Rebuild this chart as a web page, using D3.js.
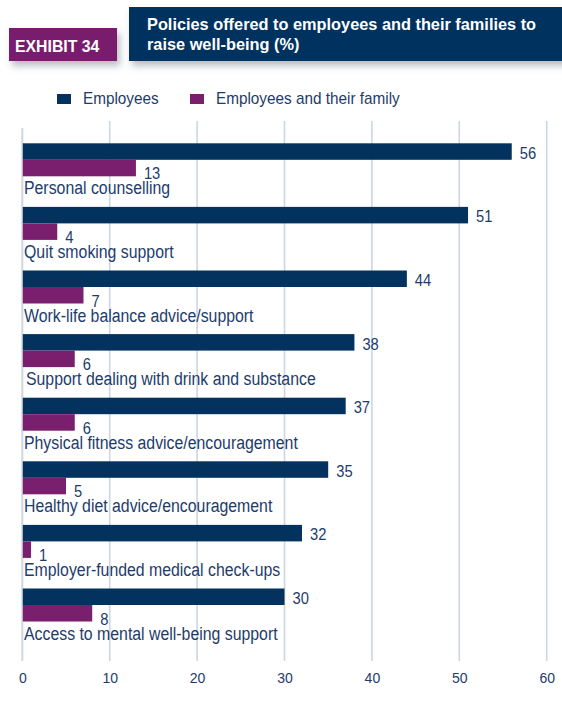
<!DOCTYPE html>
<html>
<head>
<meta charset="utf-8">
<script src="https://cdn.jsdelivr.net/npm/d3@7"></script>
<style>
  html, body { margin: 0; padding: 0; background: #fff; }
  svg { display: block; }
  text { font-family: "Liberation Sans", Arial, sans-serif; }
</style>
</head>
<body>
<svg id="chart" width="562" height="725"></svg>
<script>
// Policies offered to employees, and to employees and their families (%)
const categories = [
  "Personal counselling",
  "Quit smoking support",
  "Work-life balance advice/support",
  "Support dealing with drink and substance",
  "Physical fitness advice/encouragement",
  "Healthy diet advice/encouragement",
  "Employer-funded medical check-ups",
  "Access to mental well-being support"
];
const employees = [56, 51, 44, 38, 37, 35, 32, 30];
const employeesAndFamily = [13, 4, 7, 6, 6, 5, 1, 8];
const seriesNames = ["Employees", "Employees and their family"];
const xTicks = [0, 10, 20, 30, 40, 50, 60];

const NAVY = "#04325f";
const PURPLE = "#7a1e6e";
const TEXT = "#1d3c6b";
const GRID = "#cdd6e2";

const svg = d3.select("#chart");

// Narrow the glyphs horizontally to get a condensed face
function condense(sel, f) {
  sel.each(function () {
    const w = this.getComputedTextLength();
    d3.select(this).attr("textLength", w * f).attr("lengthAdjust", "spacingAndGlyphs");
  });
}

// Drop shadow for the header boxes
const defs = svg.append("defs");
const shadow = defs.append("filter").attr("id", "shadow")
  .attr("x", "-10%").attr("y", "-20%").attr("width", "130%").attr("height", "160%");
shadow.append("feDropShadow")
  .attr("dx", 3).attr("dy", 5).attr("stdDeviation", 3.5)
  .attr("flood-color", "#7f8a99").attr("flood-opacity", 0.55);

// Header
svg.append("rect").attr("x", 9).attr("y", 28).attr("width", 108).attr("height", 33)
  .attr("fill", PURPLE).attr("filter", "url(#shadow)");
svg.append("text").attr("x", 15).attr("y", 51.5)
  .attr("fill", "#fff").attr("font-weight", "bold").attr("font-size", 17)
  .text("EXHIBIT 34")
  .call(condense, 0.93);

svg.append("rect").attr("x", 129).attr("y", 7).attr("width", 440).attr("height", 54)
  .attr("fill", NAVY).attr("filter", "url(#shadow)");
const titleLines = ["Policies offered to employees and their families to", "raise well-being (%)"];
svg.append("g").selectAll("text").data(titleLines).join("text")
  .attr("x", 147).attr("y", (d, i) => 29.5 + i * 20.5)
  .attr("fill", "#fff").attr("font-weight", "bold").attr("font-size", 17)
  .text(d => d)
  .call(condense, 0.96);

// Legend
const legendItems = [
  { name: seriesNames[0], color: NAVY, x: 57 },
  { name: seriesNames[1], color: PURPLE, x: 190 }
];
const legend = svg.append("g").selectAll("g").data(legendItems).join("g")
  .attr("transform", d => `translate(${d.x},94)`);
legend.append("rect").attr("width", 14).attr("height", 10).attr("fill", d => d.color);
legend.append("text").attr("x", 26).attr("y", 9.5)
  .attr("fill", TEXT).attr("font-size", 17).text(d => d.name)
  .call(condense, 0.9);

// Scales
const x = d3.scaleLinear().domain([0, 60]).range([22.3, 546.7]);
const y = d3.scaleBand().domain(categories).range([143.3, 143.3 + 8 * 63.6]).paddingInner(0).paddingOuter(0);
const barH = 16.5;

// Gridlines
const grid = svg.append("g");
grid.selectAll("line").data(xTicks).join("line")
  .attr("x1", d => x(d)).attr("x2", d => x(d))
  .attr("y1", d => d === 0 ? 128 : 121).attr("y2", 661)
  .attr("stroke", GRID).attr("stroke-width", d => d === 0 ? 2 : 1.6);

// Tick labels
const xAxis = d3.axisBottom(x).tickValues(xTicks).tickSize(0).tickPadding(0).tickFormat(d3.format("d"));
const axisG = svg.append("g").attr("transform", "translate(0,673)").call(xAxis);
axisG.select(".domain").remove();
axisG.selectAll("text")
  .attr("fill", TEXT).attr("font-size", 14)
  .attr("font-family", "\"Liberation Sans\", Arial, sans-serif");

// Bars
const groups = svg.append("g").selectAll("g").data(categories).join("g")
  .attr("transform", d => `translate(0,${y(d)})`);

groups.append("rect")
  .attr("x", x(0) + 0.5).attr("y", 0)
  .attr("width", (d, i) => x(employees[i]) - x(0) - 0.5).attr("height", barH)
  .attr("fill", NAVY);
groups.append("rect")
  .attr("x", x(0) + 0.5).attr("y", barH)
  .attr("width", (d, i) => x(employeesAndFamily[i]) - x(0) - 0.5).attr("height", barH)
  .attr("fill", PURPLE);

// Value labels
groups.append("text")
  .attr("x", (d, i) => x(employees[i]) + 8).attr("y", barH - 1)
  .attr("fill", TEXT).attr("font-size", 16)
  .text((d, i) => employees[i])
  .call(condense, 0.92);
groups.append("text")
  .attr("x", (d, i) => x(employeesAndFamily[i]) + 8).attr("y", 2 * barH + 3)
  .attr("fill", TEXT).attr("font-size", 16)
  .text((d, i) => employeesAndFamily[i])
  .call(condense, 0.92);

// Category labels
groups.append("text")
  .attr("x", (d, i) => i === 3 ? 26 : 24).attr("y", 2 * barH + 18)
  .attr("fill", TEXT).attr("font-size", 18)
  .text(d => d)
  .call(condense, 0.88);
</script>
</body>
</html>
